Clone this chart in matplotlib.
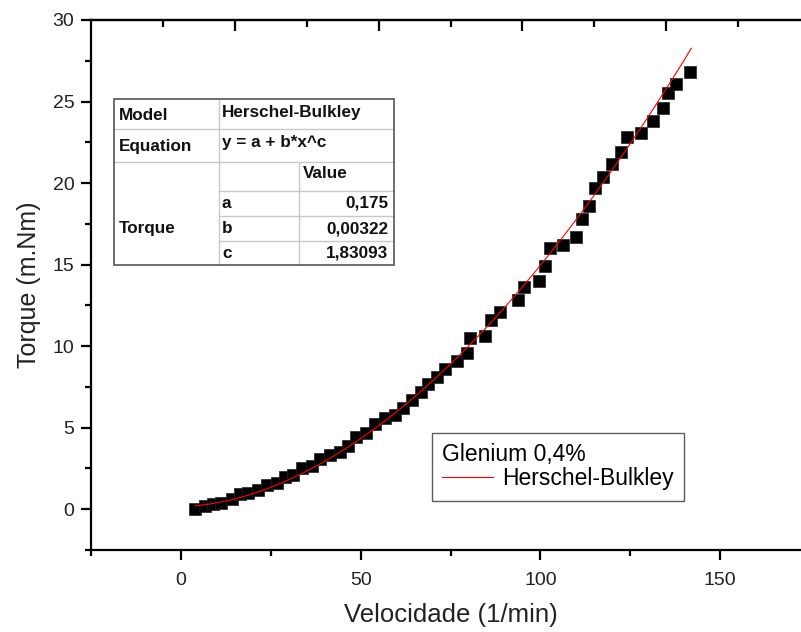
import numpy as np
import matplotlib
matplotlib.use("Agg")
import matplotlib.pyplot as plt

plt.rcParams['font.family'] = ['Liberation Sans', 'DejaVu Sans']

# measured points (Glenium 0,4%)
vel = [3.9, 6.7, 9.0, 11.3, 14.1, 16.4, 18.8, 21.5, 23.9, 26.6, 29.0, 31.3,
       33.6, 36.4, 38.7, 41.5, 44.3, 46.5, 48.7, 51.5, 54.0, 56.8, 59.6,
       61.8, 64.3, 66.8, 68.8, 71.3, 73.5, 76.9, 79.7, 80.5, 84.7, 86.4,
       88.9, 93.9, 95.5, 99.7, 101.4, 102.8, 106.4, 110.0, 111.7, 113.5,
       115.3, 117.5, 120.0, 122.5, 124.2, 128.1, 131.2, 134.0, 135.6,
       137.6, 141.5]
torque = [0.04, 0.2, 0.3, 0.41, 0.61, 0.92, 1.02, 1.16, 1.47, 1.63, 1.98, 2.12,
          2.53, 2.65, 3.06, 3.3, 3.5, 3.9, 4.4, 4.7, 5.2, 5.6, 5.8,
          6.2, 6.7, 7.2, 7.7, 8.1, 8.6, 9.1, 9.6, 10.5, 10.6, 11.6,
          12.1, 12.8, 13.6, 14.0, 14.9, 16.0, 16.2, 16.7, 17.8, 18.6,
          19.7, 20.4, 21.2, 21.9, 22.8, 23.1, 23.8, 24.6, 25.5,
          26.1, 26.8]

# Herschel-Bulkley fit parameters (from the table)
a_fit = 0.175
b_fit = 0.00322
c_fit = 1.83093

fig = plt.figure(figsize=(8.01, 6.32), dpi=100)
ax = fig.add_axes([91/801, 82/632, 719/801, 530/632])

ax.plot(vel, torque, 's', color='black', ms=8.5, mec='#222222', mew=0.5,
        zorder=2)
xf = np.linspace(min(vel), 142, 200)
line, = ax.plot(xf, a_fit + b_fit * xf**c_fit, '-', color='red', lw=0.8,
                zorder=3, label='Herschel-Bulkley')

ax.set_xlim(-25, 175)
ax.set_ylim(-2.5, 30)
ax.set_xticks([0, 50, 100, 150])
ax.set_xticks([-25, 25, 75, 125], minor=True)
ax.set_yticks(np.arange(0, 31, 5))
ax.set_yticks(np.arange(-2.5, 30, 5), minor=True)
ax.spines['right'].set_visible(False)
for s in ['left', 'bottom', 'top']:
    ax.spines[s].set_linewidth(1.6)
ax.tick_params(which='major', direction='out', length=7, width=1.6,
               labelsize=14, colors='black', pad=5)
ax.tick_params(axis='x', which='major', pad=9)
ax.tick_params(which='minor', direction='out', length=4.5, width=1.6)
for t in ax.get_xticklabels() + ax.get_yticklabels():
    t.set_color('#222222')

# top axis with its own ticks
top = ax.secondary_xaxis('top')
top.set_xticks([15, 55, 95, 135])
top.set_xticks([-5, 35, 75, 115, 155], minor=True)
top.tick_params(which='major', direction='in', length=8, width=1.6,
                labeltop=False)
top.tick_params(which='minor', direction='in', length=5, width=1.6)
top.spines['top'].set_linewidth(1.6)

ax.set_xlabel('Velocidade (1/min)', fontsize=18.5, labelpad=10, color='#222222')
ax.set_ylabel('Torque (m.Nm)', fontsize=18, labelpad=8, color='#222222')

leg = ax.legend(handles=[line], title='Glenium 0,4%', loc='upper left',
                fontsize=16.5, title_fontsize=16.5, frameon=True,
                fancybox=False, edgecolor='#333333', alignment='left',
                handlelength=2.2, handletextpad=0.4, borderpad=0.45,
                labelspacing=0.05, borderaxespad=0)
leg.get_frame().set_linewidth(1.0)
leg.set_bbox_to_anchor(((432 - 91)/719, 1 - (433 - 20)/530),
                       transform=ax.transAxes)

# parameter table (drawn in pixel coordinates)
tab = fig.add_axes([0, 0, 1, 1], facecolor='none')
tab.set_xlim(0, 801)
tab.set_ylim(632, 0)
tab.axis('off')
cols = [114, 219, 299, 394]
rows = [99, 129, 162, 191, 216, 241, 265]
tab.add_patch(plt.Rectangle((114, 99), 280, 166, facecolor='white',
                            edgecolor='none', zorder=1))
grey = '#c8c8c8'
for y in rows[1:3]:
    tab.plot([cols[0], cols[3]], [y, y], color=grey, lw=1, zorder=2)
for y in rows[3:6]:
    tab.plot([cols[1], cols[3]], [y, y], color=grey, lw=1, zorder=2)
tab.plot([cols[1], cols[1]], [rows[0], rows[6]], color=grey, lw=1, zorder=2)
tab.plot([cols[2], cols[2]], [rows[2], rows[6]], color=grey, lw=1, zorder=2)
tab.add_patch(plt.Rectangle((114, 99), 280, 166, facecolor='none',
                            edgecolor='#555555', lw=1.2, zorder=3))

tkw = dict(fontsize=12.3, fontweight='bold', color='#111111', va='center')
tab.text(119, 115, 'Model', **tkw)
tab.text(119, 146, 'Equation', **tkw)
tab.text(222, 112, 'Herschel-Bulkley', **tkw)
tab.text(222, 143, 'y = a + b*x^c', **tkw)
tab.text(303, 174, 'Value', **tkw)
tab.text(119, 228, 'Torque', **tkw)
names = ['a', 'b', 'c']
values = ['0,175', '0,00322', '1,83093']
for i in range(3):
    yc = (rows[3 + i] + rows[4 + i]) / 2
    tab.text(222, yc, names[i], **tkw)
    tab.text(388, yc, values[i], ha='right', **tkw)

fig.savefig('out.png', dpi=100)
